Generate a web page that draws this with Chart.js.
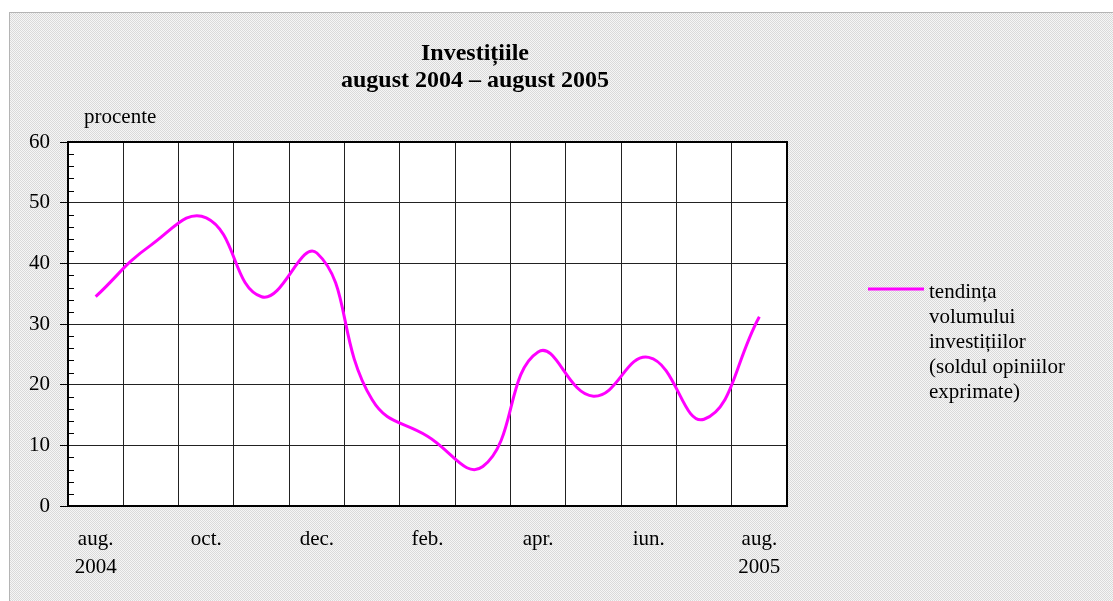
<!DOCTYPE html>
<html>
<head>
<meta charset="utf-8">
<script src="https://cdn.jsdelivr.net/npm/chart.js@4.4.0/dist/chart.umd.min.js"></script>
<style>
html,body{margin:0;padding:0;background:#fff;}
#wrap{position:relative;width:1113px;height:601px;overflow:hidden;}
#frame{position:absolute;left:9px;top:12px;right:0;bottom:0;border-top:1px solid #b4b4b4;border-left:1px solid #b4b4b4;
  background:repeating-conic-gradient(#dadada 0% 25%,#f6f6f6 0% 50%) 0 0/2px 2px;}
#c{position:absolute;left:0;top:0;}
</style>
</head>
<body>
<div id="wrap">
<div id="frame"></div>
<canvas id="c" width="1113" height="601"></canvas>
</div>
<script>
// luni aug 2004 - aug 2005
const months=['aug.','sep.','oct.','nov.','dec.','ian.','feb.','mar.','apr.','mai','iun.','iul.','aug.'];
const tickLabels=[['aug.','2004'],'',['oct.'],'',['dec.'],'',['feb.'],'',['apr.'],'',['iun.'],'',['aug.','2005']];
const investitii=[34.5,43,47.5,34.5,41.7,17.5,11.5,6.5,25.4,18.1,24.5,14.3,31.2];
const titleLines=['Investițiile','august 2004 – august 2005'];
const legendLines=['tendința','volumului','investițiilor','(soldul opiniilor','exprimate)'];
const SERIF='"Liberation Serif","Times New Roman",serif';
const MAGENTA='#ff00ff';

const decor={id:'decor',
  beforeDraw(chart){const {ctx,chartArea:a}=chart;
    ctx.save();ctx.fillStyle='#fff';ctx.fillRect(a.left,a.top,a.right-a.left,a.bottom-a.top);ctx.restore();},
  afterDraw(chart){const {ctx,chartArea:a,scales}=chart;const y=scales.y;
    ctx.save();
    // marginea de sus si dreapta
    ctx.strokeStyle='#000';ctx.lineWidth=2;
    ctx.beginPath();ctx.moveTo(a.left,a.top);ctx.lineTo(a.right,a.top);ctx.lineTo(a.right,a.bottom);ctx.stroke();
    // diviziuni mici pe axa y
    ctx.lineWidth=1;ctx.beginPath();
    for(let v=2;v<60;v+=2){if(v%10===0)continue;const p=Math.round(y.getPixelForValue(v))+0.5;
      ctx.moveTo(a.left,p);ctx.lineTo(a.left+6,p);}
    ctx.stroke();
    // titlu
    ctx.fillStyle='#000';ctx.textAlign='center';ctx.textBaseline='alphabetic';
    ctx.font='bold 24px '+SERIF;
    ctx.fillText(titleLines[0],475,60);ctx.fillText(titleLines[1],475,87);
    ctx.font='21px '+SERIF;ctx.textAlign='left';
    ctx.fillText('procente',84,123);
    // legenda
    ctx.strokeStyle=MAGENTA;ctx.lineWidth=3;
    ctx.beginPath();ctx.moveTo(868,289);ctx.lineTo(924,289);ctx.stroke();
    legendLines.forEach((t,i)=>ctx.fillText(t,929,298+i*25));
    ctx.restore();}
};

new Chart(document.getElementById('c'),{type:'line',
  data:{labels:tickLabels,
    datasets:[{label:legendLines.join(' '),data:investitii,borderColor:MAGENTA,borderWidth:3,
      pointRadius:0,tension:0.45,fill:false}]},
  options:{responsive:false,animation:false,
    layout:{padding:{left:0,top:142,right:326,bottom:0}},
    plugins:{legend:{display:false},title:{display:false},tooltip:{enabled:false}},
    scales:{
      x:{offset:true,
        grid:{offset:true,color:'#222',lineWidth:1,drawTicks:false},
        border:{color:'#000',width:2},
        ticks:{autoSkip:false,maxRotation:0,padding:19,color:'#000',font:{family:SERIF,size:21,lineHeight:1.35}},
        afterFit(s){s.height=95;}},
      y:{min:0,max:60,
        grid:{color:'#222',lineWidth:1,tickLength:8,tickColor:'#000'},
        border:{color:'#000',width:2},
        ticks:{stepSize:10,padding:10,color:'#000',font:{family:SERIF,size:21}},
        afterFit(s){s.width=68;}}
    }},
  plugins:[decor]});
</script>
</body>
</html>
